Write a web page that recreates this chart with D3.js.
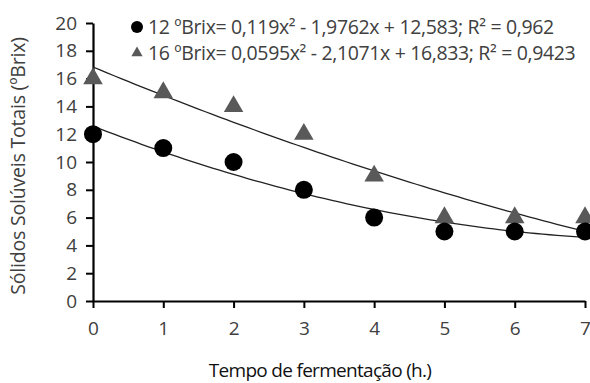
<!DOCTYPE html>
<html><head><meta charset="utf-8">
<script src="https://cdn.jsdelivr.net/npm/d3@7"></script>
<style>body{margin:0;background:#fff}svg{display:block}text{font-family:"Open Sans","Noto Sans",sans-serif}</style>
</head><body><svg id="c" width="590" height="383"></svg>
<script>
const hours = [0,1,2,3,4,5,6,7];
const brix12 = [12,11,10,8,6,5,5,5];
const brix16 = [16,15,14,12,9,6,6,6];
const coef12 = [0.119,-1.9762,12.583];
const coef16 = [0.0595,-2.1071,16.833];
const yTicks = [0,2,4,6,8,10,12,14,16,18,20];
const legendLabels = ["12 ºBrix= 0,119x² - 1,9762x + 12,583; R² = 0,962","16 ºBrix= 0,0595x² - 2,1071x + 16,833; R² = 0,9423"];

const svg = d3.select("#c");
const x = d3.scaleLinear().domain([0,7]).range([93,585]);
const y = d3.scaleLinear().domain([0,20]).range([301,23]);
const txt = "#404040";

const gx = svg.append("g").attr("transform","translate(0,301)")
  .call(d3.axisBottom(x).tickValues(hours).tickFormat(d3.format("d")).tickSize(7).tickSizeOuter(0).tickPadding(14));
const gy = svg.append("g").attr("transform","translate(93,0)")
  .call(d3.axisLeft(y).tickValues(yTicks).tickFormat(d3.format("d")).tickSize(7).tickSizeOuter(0).tickPadding(9));
[gx,gy].forEach(g=>{
  g.select(".domain").attr("stroke","#000").attr("stroke-width",2.2);
  g.selectAll(".tick line").attr("stroke","#000").attr("stroke-width",2);
  g.selectAll(".tick text").attr("fill",txt).attr("font-size",19).attr("font-family","'Open Sans',sans-serif");
});

const curve = c => d3.range(0,7.001,0.1).map(t=>[t,c[0]*t*t+c[1]*t+c[2]]);
const line = d3.line().x(d=>x(d[0])).y(d=>y(d[1]));
[coef12,coef16].forEach(c=>svg.append("path").attr("d",line(curve(c))).attr("fill","none").attr("stroke","#222").attr("stroke-width",1.3));

const tri = d3.symbol().type(d3.symbolTriangle).size(165);
svg.append("g").selectAll("path").data(hours).join("path")
  .attr("d",tri).attr("transform",(d,i)=>`translate(${x(d)},${y(brix16[i])})`).attr("fill","#595959");
svg.append("g").selectAll("circle").data(hours).join("circle")
  .attr("cx",d=>x(d)).attr("cy",(d,i)=>y(brix12[i])).attr("r",9).attr("fill","#000");

// legend
svg.append("circle").attr("cx",137).attr("cy",27).attr("r",6).attr("fill","#000");
svg.append("path").attr("d",d3.symbol().type(d3.symbolTriangle).size(55)).attr("transform","translate(137,53)").attr("fill","#595959");
legendLabels.forEach((l,i)=>svg.append("text").attr("x",148).attr("y",34+i*25.5).attr("font-size",19.5).attr("fill",txt).attr("letter-spacing","-0.35").text(l));

svg.append("text").attr("transform","translate(25,166) rotate(-90)").attr("text-anchor","middle")
  .attr("font-size",19.5).attr("fill",txt).attr("letter-spacing","-0.2").text("Sólidos Solúveis Totais (ºBrix)");
svg.append("text").attr("x",320).attr("y",377).attr("text-anchor","middle")
  .attr("font-size",19).attr("fill","#111").attr("letter-spacing","-0.7").text("Tempo de fermentação (h.)");
</script></body></html>
